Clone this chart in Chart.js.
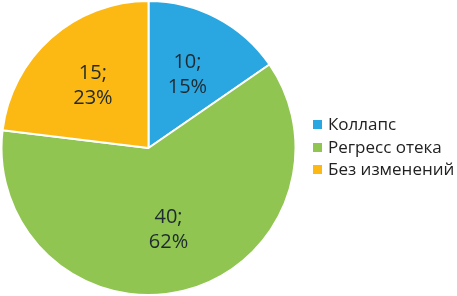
<!DOCTYPE html>
<html>
<head>
<meta charset="utf-8">
<script src="https://cdn.jsdelivr.net/npm/chart.js@4"></script>
<style>
  html, body { margin: 0; padding: 0; background: #fff; }
  #wrap { position: relative; width: 457px; height: 296px; }
  #legend { position: absolute; left: 313px; top: 113px; margin: 0; padding: 0; list-style: none;
    font-family: "Open Sans", sans-serif; font-size: 17px; color: #222; }
  #legend li { height: 22.5px; line-height: 22.5px; white-space: nowrap; }
  #legend span { display: inline-block; width: 9px; height: 9px; margin-right: 6px; vertical-align: 1px; }
</style>
</head>
<body>
<div id="wrap">
  <canvas id="chart" width="457" height="296"></canvas>
  <ul id="legend"></ul>
</div>
<script>
const labels = ['Коллапс', 'Регресс отека', 'Без изменений'];
const counts = [10, 40, 15];
const percents = [15, 62, 23];
const colors = ['#2aa7e1', '#8fc550', '#fdb913'];

// labels "N;\nP%" inside each slice
const sliceLabels = {
  id: 'sliceLabels',
  afterDatasetsDraw(chart) {
    const ctx = chart.ctx;
    const meta = chart.getDatasetMeta(0);
    ctx.save();
    ctx.font = '20px "Open Sans", sans-serif';
    ctx.fillStyle = '#1e2a30';
    ctx.textAlign = 'center';
    ctx.textBaseline = 'middle';
    meta.data.forEach((arc, i) => {
      const mid = (arc.startAngle + arc.endAngle) / 2;
      const r = arc.outerRadius * 0.57;
      const x = arc.x + Math.cos(mid) * r;
      const y = arc.y + Math.sin(mid) * r;
      ctx.fillText(counts[i] + ';', x, y - 12);
      ctx.fillText(percents[i] + '%', x, y + 13);
    });
    ctx.restore();
  }
};

new Chart(document.getElementById('chart').getContext('2d'), {
  type: 'pie',
  data: {
    labels: labels,
    datasets: [{
      data: counts,
      backgroundColor: colors,
      borderColor: '#fff',
      borderWidth: 2
    }]
  },
  options: {
    responsive: false,
    animation: false,
    layout: { padding: { left: 0, right: 160, top: 0, bottom: 0 } },
    plugins: { legend: { display: false }, tooltip: { enabled: false } }
  },
  plugins: [sliceLabels]
});

const legend = document.getElementById('legend');
labels.forEach((l, i) => {
  const li = document.createElement('li');
  li.innerHTML = '<span style="background:' + colors[i] + '"></span>' + l;
  legend.appendChild(li);
});
</script>
</body>
</html>
